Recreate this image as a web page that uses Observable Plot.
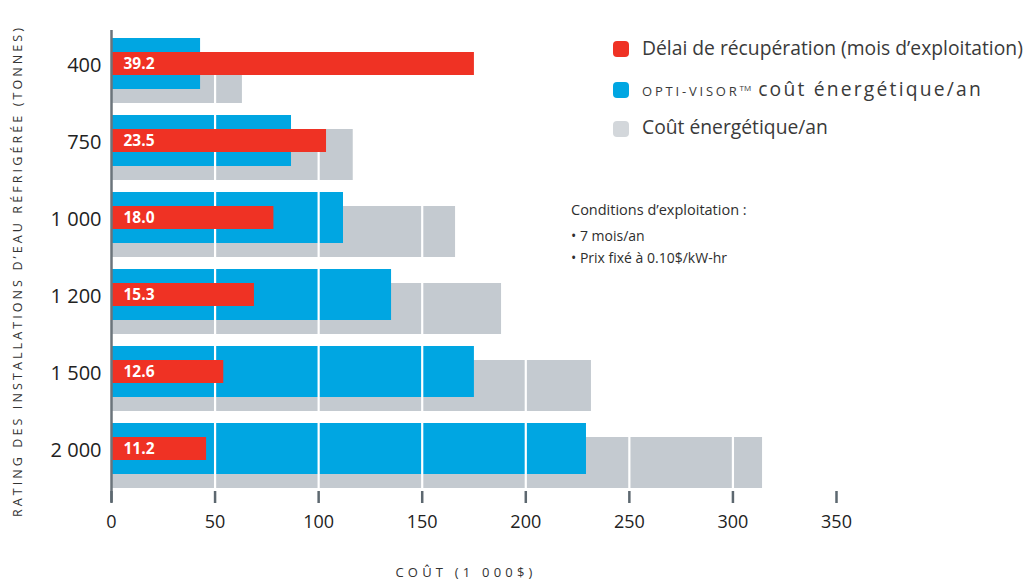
<!DOCTYPE html>
<html>
<head>
<meta charset="utf-8">
<script src="https://cdn.jsdelivr.net/npm/d3@7"></script>
<script src="https://cdn.jsdelivr.net/npm/@observablehq/plot@0.6"></script>
<style>
  body { margin: 0; background: #fff; font-family: "Open Sans", sans-serif; color: #333; }
  #wrap { position: relative; width: 1028px; height: 580px; overflow: hidden; }
  #chart { position: absolute; left: 0; top: 0; }
  .abs { position: absolute; white-space: nowrap; }
  .sw { position: absolute; width: 16px; height: 16px; border-radius: 4px; }
  .leg { position: absolute; left: 642px; font-size: 19.3px; line-height: 1; color: #3a3a3a; white-space: nowrap; }
  .sc { font-size: 13px; letter-spacing: 2.8px; }
  .tm { font-size: 8px; vertical-align: 5px; letter-spacing: 0; margin-right: 7px; }
  .note { position: absolute; left: 571px; font-size: 14.5px; color: #2e2e2e; line-height: 1; white-space: nowrap; }
  .note2 { font-size: 14px; }
</style>
</head>
<body>
<div id="wrap">
  <div id="chart"></div>
  <div class="sw" style="left:613px;top:41px;background:#ef3224"></div>
  <div class="sw" style="left:613px;top:82px;background:#00a6e2"></div>
  <div class="sw" style="left:613px;top:121px;background:#d3d7db"></div>
  <div class="leg" style="top:38px">Délai de récupération (mois d’exploitation)</div>
  <div class="leg" style="top:79px"><span class="sc">OPTI-VISOR</span><span class="tm">TM</span><span style="letter-spacing:2.2px">coût énergétique/an</span></div>
  <div class="leg" style="top:117px">Coût énergétique/an</div>
  <div class="note" style="top:203px">Conditions d’exploitation :</div>
  <div class="note note2" style="top:229px">• 7 mois/an</div>
  <div class="note note2" style="top:251px">• Prix fixé à 0.10$/kW-hr</div>
  <div class="abs" style="left:17px;top:271px;transform:translate(-50%,-50%) rotate(-90deg);font-size:12.5px;letter-spacing:3.1px;color:#333">RATING DES INSTALLATIONS D’EAU RÉFRIGÉRÉE (TONNES)</div>
  <div class="abs" style="left:466px;top:572px;transform:translate(-50%,-50%);font-size:13px;letter-spacing:4.2px;color:#333">COÛT (1 000$)</div>
</div>
<script>
// Data
const ratings = ["400", "750", "1 000", "1 200", "1 500", "2 000"];
const baseCost = [63.2, 116.7, 166.1, 188.3, 231.7, 314.3];     // Coût énergétique/an (1 000$)
const optiCost = [43.0, 86.9, 112.0, 135.2, 175.2, 229.3];      // OPTI-VISOR coût énergétique/an
const paybackBar = [175.2, 103.8, 78.4, 69.0, 54.2, 45.9];      // red bar lengths as drawn
const paybackLabels = ["39.2", "23.5", "18.0", "15.3", "12.6", "11.2"]; // mois
const xTicks = [0, 50, 100, 150, 200, 250, 300, 350];

const RED = "#ef3224", BLUE = "#00a6e2", GRAY = "#c4cad0";

const rows = ratings.map((r, i) => ({
  rating: r, base: baseCost[i], opti: optiCost[i], payback: paybackBar[i], label: paybackLabels[i]
}));

const chart = Plot.plot({
  width: 1028,
  height: 580,
  marginLeft: 111,
  marginRight: 192,
  marginTop: 36,
  marginBottom: 89,
  style: { fontFamily: "'Open Sans', sans-serif", background: "transparent", color: "#222" },
  x: { domain: [0, 350], ticks: xTicks },
  y: { domain: ratings, paddingInner: 0.152, paddingOuter: 0 },
  marks: [
    Plot.barX(rows, { y: "rating", x: "base", fill: GRAY, insetTop: 14 }),
    Plot.barX(rows, { y: "rating", x: "opti", fill: BLUE, insetBottom: 14 }),
    Plot.ruleX(xTicks.slice(1), { stroke: "white", strokeWidth: 2.2 }),
    Plot.barX(rows, { y: "rating", x: "payback", fill: RED, insetTop: 14, insetBottom: 28 }),
    Plot.text(rows, { y: "rating", x: 0, text: "label", dx: 12, dy: -7, textAnchor: "start",
      fill: "white", fontWeight: "bold", fontSize: 15.5 }),
    Plot.ruleX([0], { stroke: "#6b747b", strokeWidth: 2.5, insetTop: -6, insetBottom: -11 }),
    Plot.axisX({ ticks: xTicks, tickSize: 12, tickPadding: 12, fontSize: 18, stroke: "#5d6870",
      strokeWidth: 2.5, fill: "#222", label: null }),
    Plot.axisY({ tickSize: 0, tickPadding: 10, fontSize: 20, dy: -5, fill: "#222", label: null })
  ]
});
document.getElementById("chart").appendChild(chart);
</script>
</body>
</html>
